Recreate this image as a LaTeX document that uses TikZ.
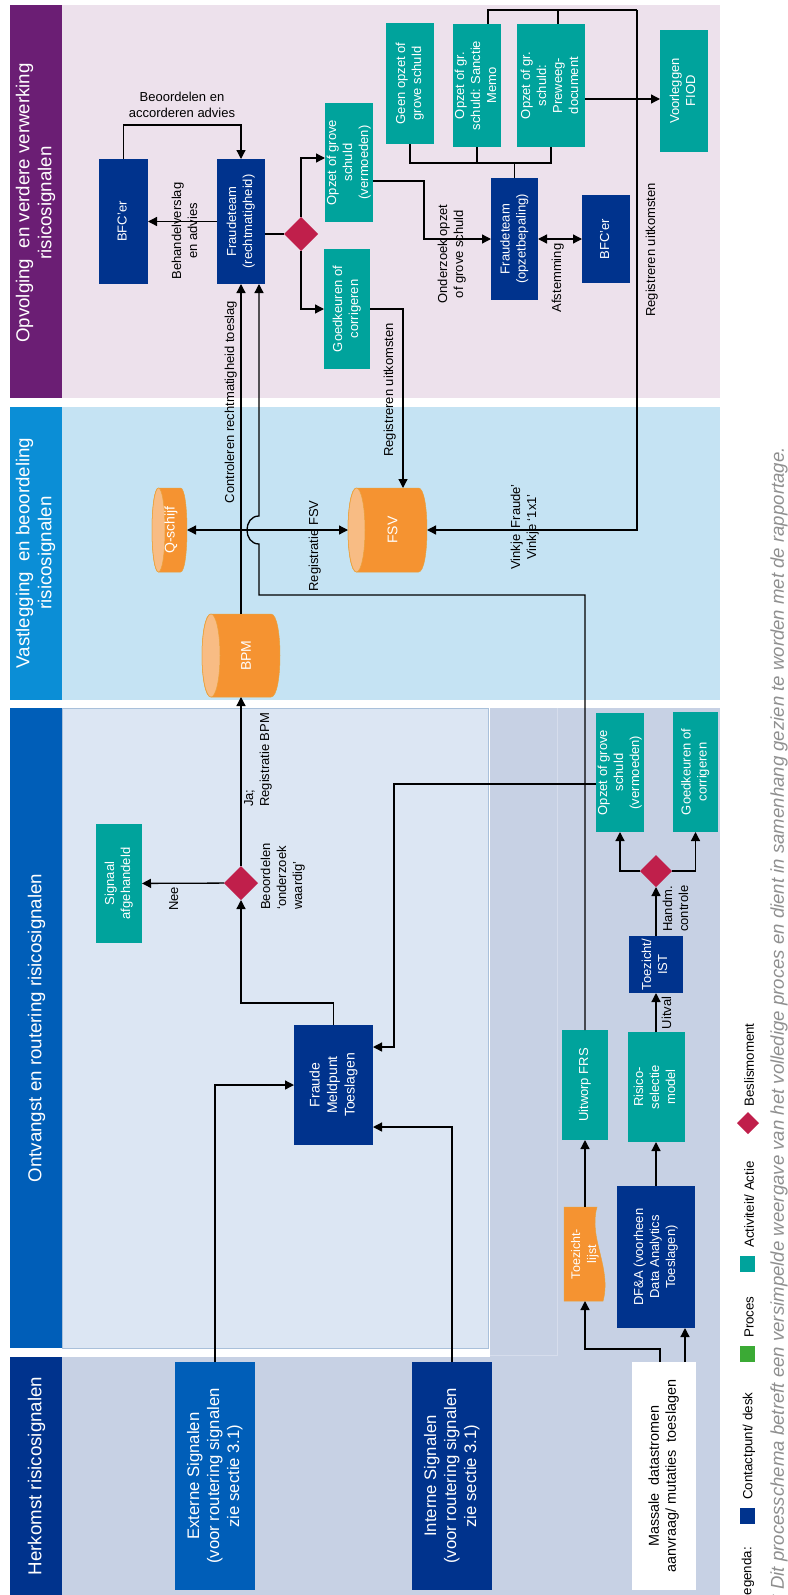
\documentclass[tikz,border=0pt]{standalone}
\usepackage{fontspec}
\setmainfont{Liberation Sans}
\usetikzlibrary{arrows.meta,shapes.geometric}
\definecolor{navy}{HTML}{00338D}
\definecolor{midblue}{HTML}{005EB8}
\definecolor{skyhdr}{HTML}{0B8ED6}
\definecolor{purp}{HTML}{6B1E74}
\definecolor{tealc}{HTML}{00A39C}
\definecolor{orng}{HTML}{F59331}
\definecolor{orngcap}{HTML}{F8BC84}
\definecolor{orngline}{HTML}{E9A23B}
\definecolor{crim}{HTML}{C01F4B}
\definecolor{lav}{HTML}{EDE1EC}
\definecolor{skybody}{HTML}{C5E3F3}
\definecolor{paleblue}{HTML}{DCE6F3}
\definecolor{panelline}{HTML}{A9C0DA}
\definecolor{grayblue}{HTML}{C7D1E4}
\definecolor{faintline}{HTML}{D6DDEC}
\definecolor{greenc}{HTML}{3BAA35}
\definecolor{notegray}{HTML}{8F8F8F}
\newcommand{\rt}[1]{\rotatebox{90}{\begin{tabular}{@{}c@{}}#1\end{tabular}}}
\newcommand{\rtl}[1]{\rotatebox{90}{\begin{tabular}{@{}l@{}}#1\end{tabular}}}
\newcommand{\fs}[2]{\fontsize{#1}{#2}\selectfont}
% cylinder lying on its side, visible end on the left: x0 x1 y0 y1 rx
\newcommand{\cylshape}[5]{%
  \filldraw[fill=orng, draw=orngline, line width=0.5pt]
    ({#1+#5},#3) -- ({#2-#5},#3)
    .. controls ({#2+0.333*#5},#3) and ({#2+0.333*#5},#4) .. ({#2-#5},#4)
    -- ({#1+#5},#4)
    .. controls ({#1-0.333*#5},#4) and ({#1-0.333*#5},#3) .. ({#1+#5},#3) -- cycle;
  \filldraw[fill=orngcap, draw=orngline, line width=0.5pt]
    ({#1+#5},{(#3+#4)/2}) ellipse [x radius=#5, y radius={(#4-#3)/2}];
}
\tikzset{
  bx/.style 2 args={minimum width=#1, minimum height=#2},
  blk/.style={inner sep=0pt, outer sep=0pt, text=white, font=\fs{13}{16}},
  nv/.style={blk, fill=navy},
  tl/.style={blk, fill=tealc},
  dm/.style={diamond, fill=crim, inner sep=0pt, outer sep=0pt, minimum size=34},
  cylnode/.style={rectangle, inner sep=0pt, outer sep=0pt},
  cyltext/.style={inner sep=0pt, text=white, font=\fs{14}{17}},
  arr/.style={draw=black, line width=1.3pt, -{Triangle[length=9pt,width=9pt]}},
  darr/.style={draw=black, line width=1.3pt, {Triangle[length=9pt,width=9pt]}-{Triangle[length=9pt,width=9pt]}},
  ln/.style={draw=black, line width=1.3pt},
  lbl/.style={inner sep=0pt, text=black, font=\fs{13}{16}},
  hdr/.style={inner sep=0pt, text=white, font=\fs{18.7}{22}},
  lgd/.style={inner sep=0pt, text=black, font=\fs{13.3}{16}, anchor=south},
}
\begin{document}
\begin{tikzpicture}[x=1pt,y=-1pt]
\useasboundingbox (0,0) rectangle (787,1595);
% ---------- lanes ----------
\fill[purp] (10,5) rectangle (62,398);
\fill[lav] (62,5) rectangle (720,398);
\fill[skyhdr] (10,407) rectangle (62,700);
\fill[skybody] (62,407) rectangle (720,700);
\fill[midblue] (10,708) rectangle (62,1348);
\fill[grayblue] (490,708) rectangle (720,1595);
\fill[grayblue] (62,1357) rectangle (720,1595);
\fill[navy] (10,1357) rectangle (62,1595);
\draw[faintline, line width=0.8pt] (557,708) -- (557,1355) -- (490,1355);
\fill[white] (488,708) rectangle (490,1355);
\fill[white] (10,1348) rectangle (490,1357);
\filldraw[fill=paleblue, draw=panelline, line width=0.8pt] (62,708) rectangle (488,1348);

\node[hdr] (h1) at (36,203) {\rt{Opvolging\ \ en verdere verwerking\\risicosignalen}};
\node[hdr] (h2) at (36,553) {\rt{Vastlegging\ \ en beoordeling\\risicosignalen}};
\node[hdr] (h3) at (37,1028) {\rt{Ontvangst en routering risicosignalen}};
\node[hdr] (h4) at (37,1476) {\rt{Herkomst risicosignalen}};

% ---------- lane 1 nodes ----------
\node[nv, bx={49}{125}] (bfc1) at (123.5,221.5) {\rt{BFC’er}};
\node[nv, bx={48}{125}] (ftr) at (241,221.5) {\rt{Fraudeteam\\(rechtmatigheid)}};
\node[dm] (d1) at (301,234) {};
\node[tl, bx={46}{119}] (ops1) at (349,162.5) {\rt{Opzet of grove\\schuld\\(vermoeden)}};
\node[tl, bx={46}{120}] (gk1) at (347,309) {\rt{Goedkeuren of\\corrigeren}};
\node[tl, bx={48}{121}] (geen) at (410,83.5) {\rt{Geen opzet of\\grove schuld}};
\node[tl, bx={48}{123}] (sanc) at (477,85.5) {\rt{Opzet of gr.\\schuld: Sanctie\\Memo}};
\node[tl, bx={68}{123}] (prew) at (551,85.5) {\rt{Opzet of gr.\\schuld:\\Preweeg-\\document}};
\node[tl, bx={48}{122}] (fiod) at (684,91) {\rt{Voorleggen\\FIOD}};
\node[nv, bx={47}{122}] (fto) at (514.5,239) {\rt{Fraudeteam\\(opzetbepaling)}};
\node[nv, bx={48}{88}] (bfc2) at (606,239) {\rt{BFC’er}};

% ---------- lane 2 nodes (cylinders) ----------
\cylshape{152}{187}{488}{572}{6.5}
\node[cylnode, bx={35}{84}, label={[cyltext, xshift=1.5]center:\rotatebox{90}{Q-schijf}}] (qs) at (169.5,530) {};
\cylshape{202}{280}{614}{697}{9}
\node[cylnode, bx={78}{83}, label={[cyltext, xshift=5]center:\rotatebox{90}{BPM}}] (bpm) at (241,655.5) {};
\cylshape{348}{427}{488}{572}{8.5}
\node[cylnode, bx={79}{84}, label={[cyltext, xshift=5]center:\rotatebox{90}{FSV}}] (fsv) at (387.5,530) {};

% ---------- lane 3 nodes ----------
\node[tl, bx={46}{119}] (sig) at (119,883.5) {\rt{Signaal\\afgehandeld}};
\node[dm] (d2) at (241,883) {};
\node[nv, bx={79}{120}, font=\fs{14}{17.5}] (fm) at (333.5,1085) {\rt{Fraude\\Meldpunt\\Toeslagen}};
\node[tl, bx={46}{119}] (ops2) at (620,772.5) {\rt{Opzet of grove\\schuld\\(vermoeden)}};
\node[tl, bx={45}{120}] (gk2) at (695.5,772) {\rt{Goedkeuren of\\corrigeren}};
\node[dm, minimum size=32] (d3) at (656,871) {};
\node[nv, bx={54}{57}] (tz) at (656,964.5) {\rt{Toezicht/\\IST}};
\node[tl, bx={57}{110}] (rsm) at (656,1087) {\rt{Risico-\\selectie\\model}};
\node[tl, bx={46}{110}] (ufrs) at (585,1085) {\rt{Uitworp FRS}};
\path[fill=orng, draw=orngline, line width=0.5pt] (564,1207) -- (597,1207) .. controls (588,1238) and (612,1268) .. (603,1301) -- (564,1301) -- cycle;
\node[blk, bx={42}{94}, font=\fs{12.5}{16}] (tzl) at (585,1254) {\rt{Toezicht-\\lijst}};
\node[nv, bx={78}{142}] (dfa) at (656,1257) {\rt{DF\&A (voorheen\\Data Analytics\\Toeslagen)}};

% ---------- lane 4 nodes ----------
\node[blk, fill=midblue, bx={80}{228}, font=\fs{16.7}{20}] (ext) at (215,1476) {\rt{Externe Signalen\\(voor routering signalen\\zie sectie 3.1)}};
\node[nv, bx={80}{228}, font=\fs{16.7}{20}] (int) at (452,1476) {\rt{Interne Signalen\\(voor routering signalen\\zie sectie 3.1)}};
\node[blk, fill=white, text=black, bx={64}{228}, font=\fs{14.4}{17}] (mass) at (664,1476) {\rt{Massale\ \ datastromen\\aanvraag/ mutaties\ \ toeslagen}};

% ---------- connectors lane 1 ----------
\draw[arr] (ftr) -- (bfc1);
\draw[arr] (bfc1.north) -- ++(0,-34) -| (ftr.north);
\draw[ln] (ftr.east |- d1) -- (d1);
\draw[arr] (d1.north) |- ([yshift=4.5]ops1.west);
\draw[arr] (d1.south) |- (gk1.west);
\draw[arr] ([yshift=-18.5]ops1.east) -- ++(51,0) |- (fto.west);
\draw[darr] (fto) -- (bfc2);
\coordinate (jb) at (514.5,163);
\draw[ln] (fto.north) -- (jb);
\draw[ln] (geen.south) |- (jb);
\draw[ln] (sanc.south) |- (jb);
\draw[ln] (prew.south) |- (jb);
\draw[arr] (prew.east |- 0,99) -- (fiod.west |- 0,99);
\coordinate (jt) at (637,10);
\draw[ln] ([xshift=11]sanc.north) |- (jt);
\draw[ln] ([xshift=7]prew.north) |- (jt);
\draw[arr] (jt) |- (fsv);

% ---------- connectors lane 2 ----------
\coordinate (jq) at (241,530);
\draw[arr] (bpm) -- (ftr);
\draw[arr] (jq) -- (qs);
\draw[arr] (jq) -- (fsv);
\draw[arr] (gk1.east) -| ([xshift=15.5]fsv.north);
\coordinate (ja) at (259,595);
\draw[arr] (ufrs.north) |- (ja) -- (259,544) .. controls (243,544) and (243,516) .. (259,516) -- ([xshift=18]ftr.south);

% ---------- connectors lane 3 ----------
\draw[arr] (d2) -- (bpm);
\draw[arr] (d2) -- (sig);
\draw[arr] (fm.north) -- ++(0,-22) -| (d2.south);
\draw[arr] (ext.north) |- (fm.west);
\draw[arr] (int.north) |- ([yshift=-42]fm.east);
\draw[arr] ([yshift=-11.5]ops2.west) -- ++(-202,0) |- ([yshift=38]fm.east);
\draw[arr] (d3.west) -| (ops2.south);
\draw[arr] (d3.east) -| (gk2.south);
\draw[arr] (tz) -- (d3);
\draw[arr] (rsm) -- (tz);
\draw[arr] (dfa) -- (rsm);
\draw[arr] (tzl) -- (ufrs);
\draw[arr] ([xshift=21]mass.north) -- ([xshift=21]mass.north |- dfa.south);
\draw[arr] ([xshift=-4]mass.north) -- ++(0,-13) -| (tzl.south);

% ---------- labels ----------
\node[lbl] (l1) at (182,106) {\begin{tabular}{@{}c@{}}Beoordelen en\\accorderen advies\end{tabular}};
\node[lbl] (l2) at (186,231) {\rt{Behandelverslag\\en advies}};
\node[lbl] (l3) at (231,402) {\rt{Controleren rechtmatigheid toeslag}};
\node[lbl] (l4) at (315,546) {\rt{Registratie FSV}};
\node[lbl] (l5) at (390,390) {\rt{Registreren uitkomsten}};
\node[lbl] (l6) at (452,254) {\rt{Onderzoek opzet\\of grove schuld}};
\node[lbl] (l7) at (558,278) {\rt{Afstemming}};
\node[lbl] (l8) at (652,250) {\rt{Registreren uitkomsten}};
\node[lbl] (l9) at (525,527) {\rt{Vinkje ‘Fraude’\\Vinkje ‘1x1’}};
\node[lbl] (l10) at (175,899) {\rt{Nee}};
\node[lbl, anchor=south] (l11) at (258,807) {\rtl{Ja;\\Registratie BPM}};
\node[lbl, anchor=south] (l12) at (283,910) {\rtl{Beoordelen\\‘onderzoek\\waardig’}};
\node[lbl, anchor=south] (l13) at (677,932) {\rtl{Handm.\\controle}};
\node[lbl] (l14) at (668,1013) {\rt{Uitval}};

% ---------- legend ----------
\node[lgd, anchor=north] (lg0) at (748,1547) {\rotatebox{90}{Legenda:}};
\node[fill=navy, inner sep=0, bx={15}{16}] (lgs1) at (747.5,1516) {};
\node[lgd] (lg1) at (749,1500) {\rotatebox{90}{Contactpunt/ desk}};
\node[fill=greenc, inner sep=0, bx={15}{16}] (lgs2) at (747.5,1354) {};
\node[lgd] (lg2) at (749,1338) {\rotatebox{90}{Proces}};
\node[fill=tealc, inner sep=0, bx={15}{16}] (lgs3) at (747.5,1264) {};
\node[lgd] (lg3) at (749,1248) {\rotatebox{90}{Activiteit/ Actie}};
\node[dm, minimum size=22] (lgs4) at (748,1123) {};
\node[lgd] (lg4) at (749,1107) {\rotatebox{90}{Beslismoment}};

% ---------- footnote ----------
\node[inner sep=0, anchor=north, text=notegray, font=\fs{18.6}{22}\itshape] (note) at (779,447) {\rotatebox{90}{* Dit processchema betreft een versimpelde weergave van het volledige proces en dient in samenhang gezien te worden met de rapportage.}};
\end{tikzpicture}
\end{document}
